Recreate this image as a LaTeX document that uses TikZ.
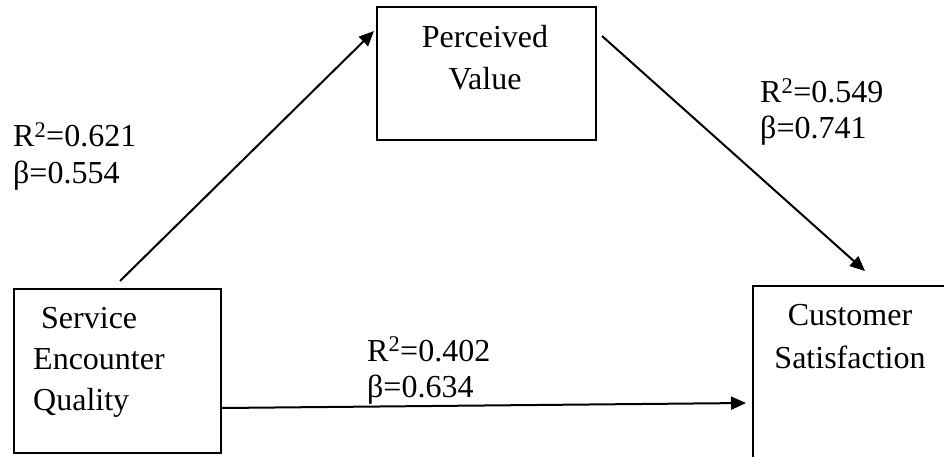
\documentclass[tikz,border=0pt]{standalone}
\usepackage{fontspec}
\setmainfont{Liberation Serif}
\usepackage{tikz}
\usetikzlibrary{arrows.meta, positioning, calc}

\begin{document}
\begin{tikzpicture}[
    x=1pt, y=-1pt,
    block/.style={rectangle, draw, line width=2pt, inner sep=0pt},
    blocktext/.style={anchor=base, align=center, inner sep=0pt, font=\fontsize{32}{42.5}\selectfont},
    arrow/.style={-{Triangle[length=15pt, width=13pt]}, line width=2pt},
    label/.style={anchor=base west, align=left, inner sep=0pt, font=\fontsize{32}{36}\selectfont},
]
\useasboundingbox (0,0) rectangle (944,457);

\node[block, minimum width=207pt, minimum height=164pt] (seq) at (117.5,371) {};
\node[block, minimum width=219pt, minimum height=133pt] (pv)  at (486.5,73.5) {};
\node[block, minimum width=197pt, minimum height=184pt] (cs)  at (851.5,378) {};

\node[blocktext, anchor=base west, align=left, font=\fontsize{32}{41}\selectfont] (seqtext) at (33,410) {\ Service\\Encounter\\Quality};
\node[blocktext] (pvtext) at (485,90) {Perceived\\Value};
\node[blocktext] (cstext) at (850,368) {Customer\\Satisfaction};

\node[label] (lab1) at (13,183)  {R\textsuperscript{2}=0.621\\β=0.554};
\node[label] (lab2) at (760,139) {R\textsuperscript{2}=0.549\\β=0.741};
\node[label] (lab3) at (367,397) {R\textsuperscript{2}=0.402\\β=0.634};

\draw[arrow] ([xshift=2.5pt, yshift=7pt]seq.north) -- ([xshift=-2pt, yshift=-25pt]pv.north west);
\draw[arrow] ([xshift=5pt, yshift=-30pt]pv.north east) -- ([xshift=113pt, yshift=14pt]cs.north west);
\draw[arrow] ([yshift=-37pt]seq.east) -- ([xshift=-6pt, yshift=-25pt]cs.west);

\end{tikzpicture}
\end{document}
